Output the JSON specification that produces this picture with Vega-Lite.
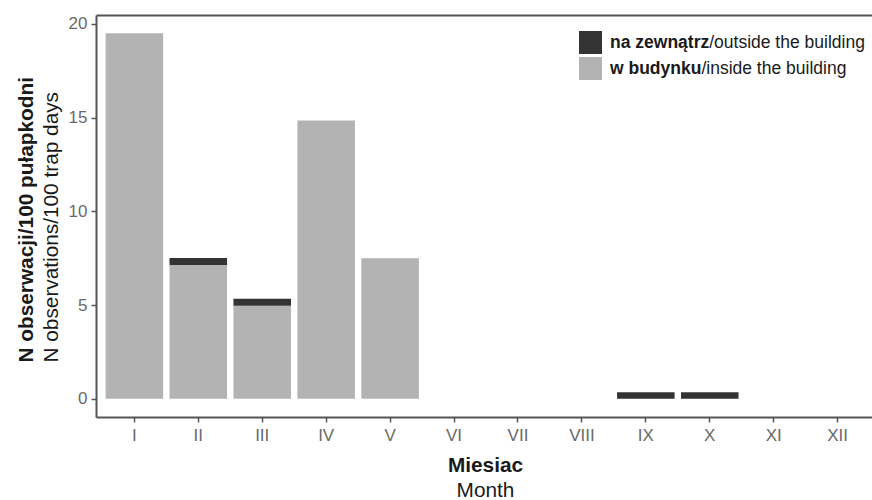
{
  "$schema": "https://vega.github.io/schema/vega-lite/v6.json",
  "width": 776,
  "height": 402,
  "autosize": {"type": "none"},
  "padding": {"left": 96, "top": 15, "right": 0, "bottom": 83},
  "background": "white",
  "config": {"view": {"stroke": null}, "font": "Liberation Sans", "axis": {"grid": false}},
  "data": {
    "values": [
      {"month": "I", "miejsce": "w budynku", "place": "/inside the building", "value": 19.5},
      {"month": "II", "miejsce": "w budynku", "place": "/inside the building", "value": 7.13},
      {"month": "II", "miejsce": "na zewnątrz", "place": "/outside the building", "value": 0.38},
      {"month": "III", "miejsce": "w budynku", "place": "/inside the building", "value": 4.96},
      {"month": "III", "miejsce": "na zewnątrz", "place": "/outside the building", "value": 0.38},
      {"month": "IV", "miejsce": "w budynku", "place": "/inside the building", "value": 14.85},
      {"month": "V", "miejsce": "w budynku", "place": "/inside the building", "value": 7.49},
      {"month": "IX", "miejsce": "na zewnątrz", "place": "/outside the building", "value": 0.35},
      {"month": "X", "miejsce": "na zewnątrz", "place": "/outside the building", "value": 0.35}
    ]
  },
  "resolve": {
    "axis": {"x": "independent", "y": "independent"},
    "scale": {"shape": "independent"},
    "legend": {"shape": "independent"}
  },
  "layer": [
    {
      "mark": {"type": "bar"},
      "encoding": {
        "x": {
          "field": "month", "type": "ordinal",
          "scale": {"domain": ["I","II","III","IV","V","VI","VII","VIII","IX","X","XI","XII"], "range": [0, 780], "paddingInner": 0.1, "paddingOuter": 0.15},
          "axis": {"orient": "bottom", "title": "Miesiac", "titleFontWeight": "bold", "titleFontSize": 20.8, "titleColor": "#1a1a1a", "titleBaseline": "alphabetic", "titleY": 54, "titleX": 389, "labelFontSize": 17, "labelColor": "#6a6a6a", "labelPadding": 5, "labelAngle": 0, "tickSize": 5, "tickColor": "#555555", "tickWidth": 1.5, "domainColor": "#555555", "domainWidth": 2}
        },
        "y": {
          "field": "value", "type": "quantitative", "stack": "zero",
          "scale": {"domain": [-0.975, 20.475], "nice": false, "zero": false},
          "axis": {"orient": "left", "values": [0, 5, 10, 15, 20], "title": "N obserwacji/100 pułapkodni", "titleFontWeight": "bold", "titleFontSize": 20.8, "titleColor": "#1a1a1a", "titleAngle": -90, "titleAlign": "left", "titleBaseline": "alphabetic", "titleX": -64, "titleY": 347, "labelFontSize": 17, "labelColor": "#6a6a6a", "labelPadding": 4, "tickSize": 5, "tickColor": "#555555", "tickWidth": 1.5, "domainColor": "#555555", "domainWidth": 2}
        },
        "color": {
          "field": "miejsce", "type": "nominal",
          "scale": {"domain": ["na zewnątrz", "w budynku"], "range": ["#333333", "#b3b3b3"]},
          "legend": {"orient": "none", "legendX": 483, "legendY": 16, "title": null, "padding": 0, "symbolType": "square", "symbolSize": 529, "symbolStrokeWidth": 0, "rowPadding": 3, "labelFontSize": 17.5, "labelFontWeight": "bold", "labelColor": "#1a1a1a", "labelOffset": 8, "labelLimit": 400}
        },
        "order": {"field": "miejsce", "sort": "descending"}
      }
    },
    {
      "transform": [{"filter": "datum.place == '/outside the building'"}],
      "mark": {"type": "point", "opacity": 0},
      "encoding": {
        "x": {
          "field": "month", "type": "ordinal",
          "scale": {"domain": ["I","II","III","IV","V","VI","VII","VIII","IX","X","XI","XII"], "range": [0, 780], "paddingInner": 0.1, "paddingOuter": 0.15},
          "axis": {"orient": "bottom", "title": "Month", "labels": false, "ticks": false, "domain": false, "titleFontWeight": "normal", "titleFontSize": 20.8, "titleColor": "#1a1a1a", "titleBaseline": "alphabetic", "titleY": 79, "titleX": 389}
        },
        "y": {
          "field": "value", "type": "quantitative",
          "scale": {"domain": [-0.975, 20.475], "nice": false, "zero": false},
          "axis": {"orient": "left", "title": "N observations/100 trap days", "labels": false, "ticks": false, "domain": false, "titleFontWeight": "normal", "titleFontSize": 20.8, "titleColor": "#1a1a1a", "titleAngle": -90, "titleAlign": "left", "titleBaseline": "alphabetic", "titleX": -39, "titleY": 347}
        },
        "shape": {
          "field": "place", "type": "nominal",
          "scale": {"domain": ["/outside the building"]},
          "legend": {"orient": "none", "legendX": 582.2, "legendY": 16, "title": null, "padding": 0, "symbolType": "square", "symbolSize": 529, "symbolOpacity": 0, "symbolStrokeWidth": 0, "labelFontSize": 17.5, "labelFontWeight": "normal", "labelColor": "#1a1a1a", "labelOffset": 8, "labelLimit": 400}
        }
      }
    },
    {
      "transform": [{"filter": "datum.place == '/inside the building'"}],
      "mark": {"type": "point", "opacity": 0},
      "encoding": {
        "x": {
          "field": "month", "type": "ordinal",
          "scale": {"domain": ["I","II","III","IV","V","VI","VII","VIII","IX","X","XI","XII"], "range": [0, 780], "paddingInner": 0.1, "paddingOuter": 0.15},
          "axis": {"orient": "top", "title": null, "labels": false, "ticks": false, "domainColor": "#555555", "domainWidth": 2}
        },
        "y": {
          "field": "value", "type": "quantitative",
          "scale": {"domain": [-0.975, 20.475], "nice": false, "zero": false},
          "axis": null
        },
        "shape": {
          "field": "place", "type": "nominal",
          "scale": {"domain": ["/inside the building"]},
          "legend": {"orient": "none", "legendX": 574.4, "legendY": 42, "title": null, "padding": 0, "symbolType": "square", "symbolSize": 529, "symbolOpacity": 0, "symbolStrokeWidth": 0, "labelFontSize": 17.5, "labelFontWeight": "normal", "labelColor": "#1a1a1a", "labelOffset": 8, "labelLimit": 400}
        }
      }
    }
  ]
}
